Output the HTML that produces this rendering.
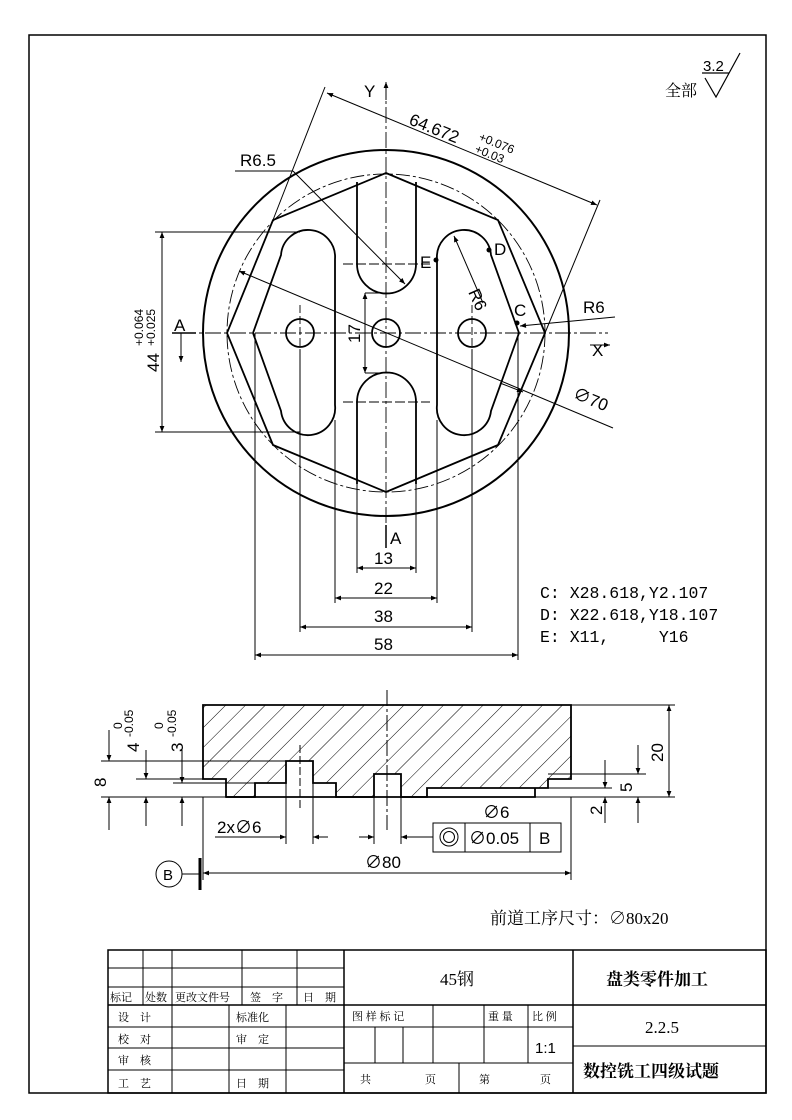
<!DOCTYPE html>
<html><head><meta charset="utf-8"><style>
html,body{margin:0;padding:0;background:#fff}
svg{display:block}
text{font-family:"Liberation Sans","Noto Sans CJK SC",sans-serif;fill:#000}
text.s{font-family:"Liberation Serif","Noto Serif CJK SC","Noto Sans CJK SC",serif}
text.m{font-family:"Liberation Mono","Noto Sans CJK SC",monospace;white-space:pre}
</style></head><body>
<svg width="792" height="1120" viewBox="0 0 792 1120" xmlns="http://www.w3.org/2000/svg">
<defs>
<marker id="a" viewBox="0 0 10 10" refX="10" refY="5" markerWidth="10" markerHeight="6" orient="auto-start-reverse" markerUnits="userSpaceOnUse"><path d="M0,1 L10,5 L0,9 Z" fill="#000"/></marker>
<pattern id="h" patternUnits="userSpaceOnUse" width="14" height="14" patternTransform="rotate(45)"><line x1="0" y1="0" x2="0" y2="14" stroke="#000" stroke-width="1"/></pattern>
</defs>
<rect x="29" y="35" width="737" height="1058" fill="none" stroke="#000" stroke-width="1.5"/>

<text x="665" y="96" class="s" font-size="16">全部</text>
<text x="703" y="71" font-size="15">3.2</text>
<path d="M702,73 H729 M705,78 L716,97 L740,53" fill="none" stroke="#000" stroke-width="1.2"/>

<g fill="none" stroke="#000">
<circle cx="386" cy="333" r="183" stroke-width="2"/>
<circle cx="386" cy="333" r="159" stroke-width="0.9" stroke-dasharray="14,3,3,3"/>
<polygon points="386,173 498,220 545,333 498,445 386,492 273,445 227,333 273,220" stroke-width="1.8"/>
<path d="M253,333 L281,255 A27,27 0 0 1 335,259 L335,405 A27,27 0 0 1 281,411 Z" stroke-width="1.8"/>
<path d="M519,333 L491,255 A27,27 0 0 0 437,259 L437,405 A27,27 0 0 0 491,411 Z" stroke-width="1.8"/>
<path d="M357,182 V264 A29.5,29.5 0 0 0 416,264 V182" stroke-width="1.8"/>
<path d="M357,484 V402 A29.5,29.5 0 0 1 416,402 V484" stroke-width="1.8"/>
<circle cx="386" cy="333" r="14" stroke-width="1.8"/>
<circle cx="300" cy="333" r="14" stroke-width="1.8"/>
<circle cx="472" cy="333" r="14" stroke-width="1.8"/>
<line x1="180" y1="333" x2="608" y2="333" stroke-width="0.9" stroke-dasharray="16,3,3,3"/>
<line x1="386" y1="82" x2="386" y2="545" stroke-width="0.9" stroke-dasharray="16,3,3,3"/>
<line x1="343" y1="264" x2="430" y2="264" stroke-width="0.9" stroke-dasharray="10,3"/>
<line x1="343" y1="402" x2="430" y2="402" stroke-width="0.9" stroke-dasharray="10,3"/>
<line x1="300" y1="305" x2="300" y2="360" stroke-width="0.9" stroke-dasharray="8,3"/>
<line x1="472" y1="305" x2="472" y2="360" stroke-width="0.9" stroke-dasharray="8,3"/>
</g>
<g stroke="#000" stroke-width="1" fill="none">
<line x1="386" y1="100" x2="386" y2="82" marker-end="url(#a)"/>
<line x1="590" y1="345" x2="610" y2="345" marker-end="url(#a)"/>
<line x1="325" y1="87" x2="273" y2="220"/>
<line x1="600" y1="200" x2="545" y2="333"/>
<line x1="327" y1="93" x2="597" y2="205" marker-start="url(#a)" marker-end="url(#a)"/>
<line x1="235" y1="171" x2="293" y2="171"/>
<line x1="293" y1="171" x2="405" y2="284" marker-end="url(#a)"/>
<line x1="483" y1="303" x2="454" y2="236" marker-end="url(#a)"/>
<line x1="615" y1="317" x2="520" y2="326" marker-end="url(#a)"/>
<line x1="613" y1="428" x2="239" y2="271" marker-end="url(#a)"/>
<line x1="500" y1="383" x2="523" y2="392" marker-end="url(#a)"/>
<line x1="155" y1="232" x2="300" y2="232"/>
<line x1="155" y1="432" x2="300" y2="432"/>
<line x1="162" y1="232" x2="162" y2="432" marker-start="url(#a)" marker-end="url(#a)"/>
<line x1="365" y1="293" x2="390" y2="293"/>
<line x1="365" y1="373" x2="390" y2="373"/>
<line x1="365" y1="293" x2="365" y2="373" marker-start="url(#a)" marker-end="url(#a)"/>
<line x1="172" y1="333" x2="196" y2="333" stroke-width="1.5"/>
<line x1="181" y1="333" x2="181" y2="362" marker-end="url(#a)"/>
<line x1="386" y1="525" x2="386" y2="548" stroke-width="1.5"/>
<line x1="357" y1="450" x2="357" y2="573"/><line x1="416" y1="450" x2="416" y2="573"/>
<line x1="335" y1="420" x2="335" y2="603"/><line x1="437" y1="420" x2="437" y2="603"/>
<line x1="300" y1="350" x2="300" y2="632"/><line x1="472" y1="350" x2="472" y2="632"/>
<line x1="255" y1="333" x2="255" y2="660"/><line x1="518" y1="333" x2="518" y2="660"/>
<line x1="357" y1="568" x2="416" y2="568" marker-start="url(#a)" marker-end="url(#a)"/>
<line x1="335" y1="598" x2="437" y2="598" marker-start="url(#a)" marker-end="url(#a)"/>
<line x1="300" y1="627" x2="472" y2="627" marker-start="url(#a)" marker-end="url(#a)"/>
<line x1="255" y1="655" x2="518" y2="655" marker-start="url(#a)" marker-end="url(#a)"/>
</g>
<g fill="#000"><circle cx="436" cy="260" r="2.5"/><circle cx="489" cy="250" r="2.5"/><circle cx="517" cy="323" r="2.5"/></g>
<g font-size="17">
<text x="364" y="97">Y</text>
<text x="592" y="356">X</text>
<text x="174" y="331">A</text>
<text x="390" y="544">A</text>
<text x="240" y="166">R6.5</text>
<text x="583" y="313">R6</text>
<text x="420" y="268">E</text>
<text x="494" y="255">D</text>
<text x="514" y="316">C</text>
<text transform="translate(468,292) rotate(66)">R6</text>
<text transform="translate(408,124) rotate(22)">64.672</text>
<text transform="translate(478,140) rotate(22)" font-size="12">+0.076</text>
<text transform="translate(474,152) rotate(22)" font-size="12">+0.03</text>
<text transform="translate(572,398) rotate(22)">∅70</text>
<text transform="translate(159,372) rotate(-90)">44</text>
<text transform="translate(143,346) rotate(-90)" font-size="12">+0.064</text>
<text transform="translate(155,346) rotate(-90)" font-size="12">+0.025</text>
<text transform="translate(360,343) rotate(-90)">17</text>
<text x="374" y="564">13</text>
<text x="374" y="594">22</text>
<text x="374" y="622">38</text>
<text x="374" y="650">58</text>
</g>
<text x="540" y="598" class="m" font-size="16.5">C: X28.618,Y2.107</text>
<text x="540" y="620" class="m" font-size="16.5">D: X22.618,Y18.107</text>
<text x="540" y="642" class="m" font-size="16.5" xml:space="preserve">E: X11,     Y16</text>

<path d="M203,705 H571 V779 H548 V788 H535 V788 H427 V797 H401 V774 H374 V797 H336 V783 H313 V761 H286 V783 H255 V797 H226 V779 H203 Z" fill="url(#h)" stroke="#000" stroke-width="1.8"/>
<path d="M226,797 H535 V788" fill="none" stroke="#000" stroke-width="1.8"/>
<g stroke="#000" stroke-width="1" fill="none">
<line x1="387" y1="690" x2="387" y2="830" stroke-dasharray="16,3,3,3"/>
<line x1="300" y1="745" x2="300" y2="810" stroke-dasharray="8,3"/>
<line x1="101" y1="761" x2="286" y2="761"/>
<line x1="136" y1="779" x2="203" y2="779"/>
<line x1="173" y1="783" x2="255" y2="783"/>
<line x1="101" y1="797" x2="226" y2="797"/>
<line x1="109" y1="730" x2="109" y2="761" marker-end="url(#a)"/>
<line x1="109" y1="830" x2="109" y2="797" marker-end="url(#a)"/>
<line x1="146" y1="750" x2="146" y2="779" marker-end="url(#a)"/>
<line x1="146" y1="826" x2="146" y2="797" marker-end="url(#a)"/>
<line x1="182" y1="750" x2="182" y2="783" marker-end="url(#a)"/>
<line x1="182" y1="826" x2="182" y2="797" marker-end="url(#a)"/>
<line x1="571" y1="705" x2="675" y2="705"/>
<line x1="535" y1="797" x2="675" y2="797"/>
<line x1="669" y1="705" x2="669" y2="797" marker-start="url(#a)" marker-end="url(#a)"/>
<line x1="548" y1="774" x2="646" y2="774"/>
<line x1="638" y1="745" x2="638" y2="774" marker-end="url(#a)"/>
<line x1="638" y1="823" x2="638" y2="797" marker-end="url(#a)"/>
<line x1="535" y1="788" x2="612" y2="788"/>
<line x1="605" y1="760" x2="605" y2="788" marker-end="url(#a)"/>
<line x1="605" y1="823" x2="605" y2="797" marker-end="url(#a)"/>
<line x1="286" y1="783" x2="286" y2="844"/><line x1="313" y1="783" x2="313" y2="844"/>
<line x1="374" y1="797" x2="374" y2="844"/><line x1="401" y1="797" x2="401" y2="844"/>
<line x1="215" y1="837" x2="286" y2="837" marker-end="url(#a)"/>
<line x1="328" y1="837" x2="313" y2="837" marker-end="url(#a)"/>
<line x1="359" y1="837" x2="374" y2="837" marker-end="url(#a)"/>
<line x1="433" y1="837" x2="401" y2="837" marker-end="url(#a)"/>
<rect x="433" y="823" width="128" height="29"/>
<line x1="465" y1="823" x2="465" y2="852"/><line x1="530" y1="823" x2="530" y2="852"/>
<circle cx="449" cy="837" r="9"/><circle cx="449" cy="837" r="5.5"/>
<line x1="203" y1="797" x2="203" y2="880"/><line x1="571" y1="797" x2="571" y2="880"/>
<line x1="203" y1="873" x2="571" y2="873" marker-start="url(#a)" marker-end="url(#a)"/>
<circle cx="169" cy="874" r="13"/>
<line x1="182" y1="874" x2="200" y2="874"/>
<line x1="200" y1="858" x2="200" y2="890" stroke-width="3"/>
</g>
<g font-size="17">
<text transform="translate(106,787) rotate(-90)">8</text>
<text transform="translate(139,752) rotate(-90)">4</text>
<text transform="translate(183,752) rotate(-90)">3</text>
<text transform="translate(122,729) rotate(-90)" font-size="12">0</text>
<text transform="translate(133,737) rotate(-90)" font-size="12">-0.05</text>
<text transform="translate(163,729) rotate(-90)" font-size="12">0</text>
<text transform="translate(176,737) rotate(-90)" font-size="12">-0.05</text>
<text transform="translate(663,762) rotate(-90)">20</text>
<text transform="translate(632,792) rotate(-90)">5</text>
<text transform="translate(602,815) rotate(-90)">2</text>
<text x="217" y="833">2x∅6</text>
<text x="483" y="818">∅6</text>
<text x="469" y="844">∅0.05</text>
<text x="539" y="844">B</text>
<text x="365" y="868">∅80</text>
<text x="163" y="880" font-size="15">B</text>
</g>
<text x="490" y="924" class="s" font-size="17">前道工序尺寸：∅80x20</text>

<g stroke="#000" fill="none">
<rect x="108" y="950" width="658" height="143" stroke-width="1.5"/>
<line x1="344" y1="950" x2="344" y2="1093" stroke-width="1.5"/>
<line x1="573" y1="950" x2="573" y2="1093" stroke-width="1.5"/>
<line x1="108" y1="1005" x2="766" y2="1005" stroke-width="1.5"/>
<g stroke-width="1">
<line x1="108" y1="968" x2="344" y2="968"/><line x1="108" y1="987" x2="344" y2="987"/>
<line x1="143" y1="950" x2="143" y2="1005"/><line x1="172" y1="950" x2="172" y2="1005"/>
<line x1="242" y1="950" x2="242" y2="1005"/><line x1="297" y1="950" x2="297" y2="1005"/>
<line x1="108" y1="1027" x2="344" y2="1027"/><line x1="108" y1="1048" x2="344" y2="1048"/><line x1="108" y1="1070" x2="344" y2="1070"/>
<line x1="172" y1="1005" x2="172" y2="1093"/><line x1="229" y1="1005" x2="229" y2="1093"/><line x1="286" y1="1005" x2="286" y2="1093"/>
<line x1="344" y1="1027" x2="573" y2="1027"/><line x1="344" y1="1063" x2="573" y2="1063"/>
<line x1="433" y1="1005" x2="433" y2="1063"/><line x1="484" y1="1005" x2="484" y2="1063"/><line x1="528" y1="1005" x2="528" y2="1063"/>
<line x1="375" y1="1027" x2="375" y2="1063"/><line x1="403" y1="1027" x2="403" y2="1063"/>
<line x1="459" y1="1063" x2="459" y2="1093"/>
<line x1="573" y1="1046" x2="766" y2="1046"/>
</g></g>
<g font-size="11">
<text class="s" x="110" y="1001">标记</text><text class="s" x="145" y="1001">处数</text><text class="s" x="175" y="1001">更改文件号</text>
<text class="s" x="250" y="1001">签　字</text><text class="s" x="303" y="1001">日　期</text>
<text class="s" x="118" y="1021">设　计</text><text class="s" x="236" y="1021">标准化</text>
<text class="s" x="118" y="1043">校　对</text><text class="s" x="236" y="1043">审　定</text>
<text class="s" x="118" y="1064">审　核</text>
<text class="s" x="118" y="1087">工　艺</text><text class="s" x="236" y="1087">日　期</text>
<text class="s" x="352" y="1020">图 样 标 记</text><text class="s" x="488" y="1020">重 量</text><text class="s" x="532" y="1020">比 例</text>
<text class="s" x="360" y="1083">共</text><text class="s" x="425" y="1083">页</text><text class="s" x="479" y="1083">第</text><text class="s" x="540" y="1083">页</text>
</g>
<text x="440" y="985" class="s" font-size="17">45钢</text>
<text x="535" y="1053" font-size="15">1:1</text>
<text x="606" y="985" class="s" font-size="17" font-weight="bold">盘类零件加工</text>
<text x="645" y="1033" class="s" font-size="17">2.2.5</text>
<text x="583" y="1077" class="s" font-size="17" font-weight="bold">数控铣工四级试题</text>
</svg>
</body></html>
